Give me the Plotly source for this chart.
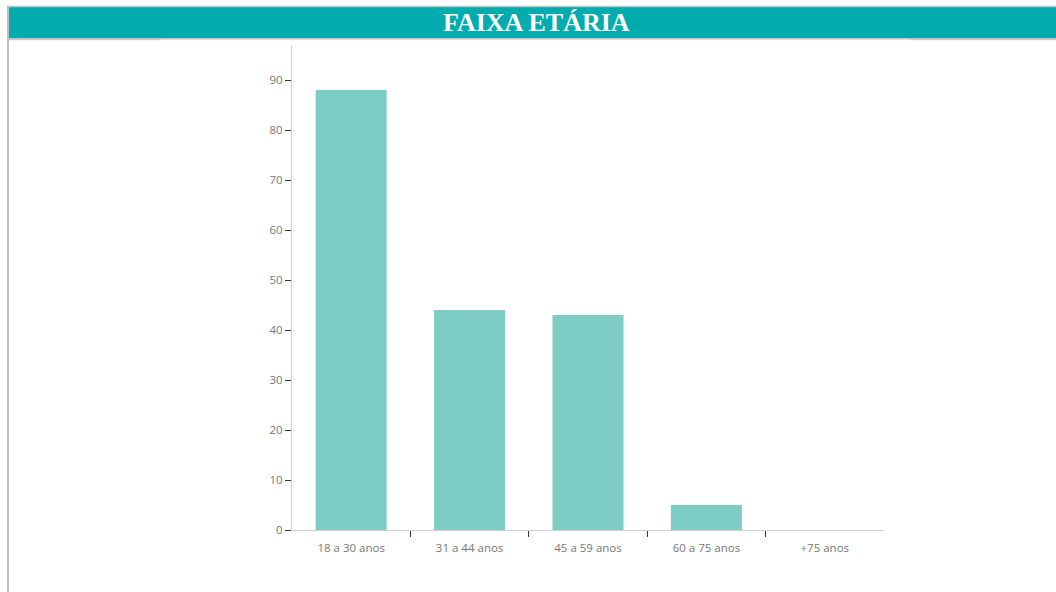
import plotly.graph_objects as go

categories = ["18 a 30 anos", "31 a 44 anos", "45 a 59 anos", "60 a 75 anos", "+75 anos"]
values = [88, 44, 43, 5, 0]
y_ticks = [0, 10, 20, 30, 40, 50, 60, 70, 80, 90]
boundary_ticks = [0.5, 1.5, 2.5, 3.5]
title_text = "FAIXA ETÁRIA"

W, H = 1056, 592
L, R, T, B = 292, 172, 45, 62
PW, PH = W - L - R, H - T - B

def px(x):
    return (x - L) / PW

def py(y):
    return (H - B - y) / PH

fig = go.Figure()
fig.add_trace(go.Bar(
    x=categories, y=values,
    marker=dict(color="#7ecdc4", line=dict(width=0)),
    hoverinfo="x+y",
))
# helper trace to draw boundary ticks on an overlaid numeric axis
fig.add_trace(go.Scatter(x=boundary_ticks, y=[0] * len(boundary_ticks), xaxis="x2",
                         mode="markers", marker=dict(opacity=0), hoverinfo="skip"))

shapes = [
    dict(type="rect", xref="paper", yref="paper", x0=px(9), x1=px(1056), y0=py(38), y1=py(7),
         fillcolor="#02abad", line=dict(width=0), layer="above"),
    dict(type="line", xref="paper", yref="paper", x0=px(7), x1=px(1056), y0=py(6.5), y1=py(6.5),
         line=dict(color="#c4c4c4", width=1.5)),
    dict(type="line", xref="paper", yref="paper", x0=px(8), x1=px(8), y0=py(6), y1=py(592),
         line=dict(color="#c0c0c0", width=2)),
    dict(type="line", xref="paper", yref="paper", x0=px(8), x1=px(1056), y0=py(38.7), y1=py(38.7),
         line=dict(color="#c4c4c4", width=1.5)),
    dict(type="line", xref="paper", yref="paper", x0=px(8), x1=px(161), y0=py(39.7), y1=py(39.7),
         line=dict(color="#c4c4c4", width=1)),
    dict(type="line", xref="paper", yref="paper", x0=px(910), x1=px(1056), y0=py(39.7), y1=py(39.7),
         line=dict(color="#c4c4c4", width=1)),
]

fig.update_layout(
    width=W, height=H,
    margin=dict(l=L, r=R, t=T, b=B, pad=0),
    paper_bgcolor="white", plot_bgcolor="white",
    bargap=0.4,
    showlegend=False,
    shapes=shapes,
    annotations=[dict(text="<b>" + title_text + "</b>", xref="paper", yref="paper",
                      x=px(536), y=py(23), xanchor="center", yanchor="middle", showarrow=False,
                      font=dict(family="Liberation Serif, Times New Roman, serif", size=26, color="white"))],
    font=dict(family="Open Sans, sans-serif", size=11, color="#777"),
    xaxis=dict(
        type="category", showgrid=False, showline=True, linecolor="#d0d0d0", linewidth=1,
        ticks="", ticklabelstandoff=7,
        tickfont=dict(size=11.5, color="#777"), fixedrange=True,
    ),
    xaxis2=dict(
        overlaying="x", side="bottom", range=[-0.5, 4.5], tickvals=boundary_ticks,
        ticktext=[""] * len(boundary_ticks), showgrid=False, zeroline=False, showline=False,
        ticks="outside", ticklen=6, tickcolor="#333", tickwidth=1, fixedrange=True,
    ),
    yaxis=dict(
        range=[0, 97], tickvals=y_ticks, showgrid=False, zeroline=False, showline=True,
        linecolor="#d0d0d0", linewidth=1, ticks="outside", ticklen=6, tickcolor="#333",
        tickwidth=1, tickfont=dict(size=11.5, color="#777"), fixedrange=True,
    ),
)

fig.write_html("out.html", config={"displayModeBar": False})
